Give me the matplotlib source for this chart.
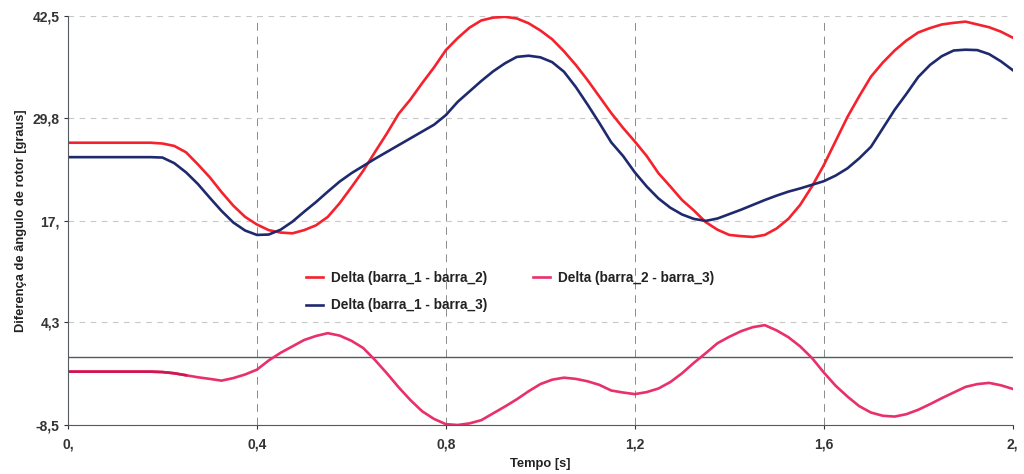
import numpy as np
import matplotlib
matplotlib.use("Agg")
import matplotlib.pyplot as plt

# time axis, 0.025 s steps
tempo = np.round(np.arange(0, 2.0001, 0.025), 4)

delta_12 = [26.7, 26.7, 26.7, 26.7, 26.7, 26.7, 26.7, 26.7, 26.6, 26.3,
            25.5, 24.0, 22.4, 20.55, 18.85, 17.45, 16.5, 15.8, 15.5, 15.4,
            15.8, 16.4, 17.45, 19.15, 21.15, 23.2, 25.55, 27.85, 30.3, 32.1,
            34.15, 36.1, 38.25, 39.75, 41.05, 41.95, 42.3, 42.4, 42.2, 41.6,
            40.7, 39.6, 38.1, 36.4, 34.5, 32.45, 30.4, 28.55, 26.85, 25.05,
            22.9, 21.25, 19.55, 18.25, 16.8, 15.85, 15.2, 15.05, 14.95, 15.2,
            16.0, 17.2, 18.95, 21.25, 23.9, 26.9, 29.9, 32.5, 34.95, 36.7,
            38.2, 39.45, 40.45, 41.0, 41.45, 41.65, 41.8, 41.45, 41.1, 40.55,
            39.8]
delta_13 = [24.9, 24.9, 24.9, 24.9, 24.9, 24.9, 24.9, 24.9, 24.85, 24.15,
            23.0, 21.55, 19.85, 18.2, 16.75, 15.75, 15.2, 15.25, 15.85, 16.85,
            18.1, 19.3, 20.6, 21.85, 22.9, 23.8, 24.7, 25.55, 26.4, 27.25,
            28.1, 28.95, 30.15, 31.8, 33.1, 34.4, 35.6, 36.6, 37.4, 37.55,
            37.35, 36.75, 35.55, 33.65, 31.45, 29.15, 26.75, 25.05, 23.0, 21.25,
            19.75, 18.6, 17.75, 17.2, 16.95, 17.25, 17.8, 18.35, 18.95, 19.55,
            20.1, 20.6, 21.0, 21.45, 21.9, 22.6, 23.5, 24.75, 26.2, 28.5,
            30.8, 32.8, 34.9, 36.4, 37.5, 38.2, 38.3, 38.25, 37.75, 36.85,
            35.75]
delta_23 = [-1.85, -1.85, -1.85, -1.85, -1.85, -1.85, -1.85, -1.85, -1.9, -2.05,
            -2.3, -2.55, -2.75, -2.97, -2.65, -2.2, -1.6, -0.45, 0.5, 1.3,
            2.1, 2.6, 2.95, 2.65, 2.0, 1.1, -0.4, -2.05, -3.8, -5.4,
            -6.8, -7.75, -8.4, -8.5, -8.3, -7.9, -7.05, -6.2, -5.3, -4.3,
            -3.4, -2.85, -2.6, -2.75, -3.05, -3.5, -4.2, -4.45, -4.65, -4.4,
            -3.95, -3.15, -2.05, -0.75, 0.45, 1.7, 2.5, 3.2, 3.7, 3.95,
            3.3, 2.45, 1.3, -0.15, -1.95, -3.6, -4.95, -6.15, -6.95, -7.35,
            -7.45, -7.15, -6.6, -5.9, -5.15, -4.45, -3.75, -3.4, -3.25, -3.55,
            -4.0]

yticks = [-8.5, 4.3, 17.0, 29.8, 42.5]
ytick_labels = ["-8,5", "4,3", "17,", "29,8", "42,5"]
xticks = [0, 0.4, 0.8, 1.2, 1.6, 2.0]
xtick_labels = ["0,", "0,4", "0,8", "1,2", "1,6", "2,"]

plt.rcParams['font.family'] = ['Liberation Sans', 'DejaVu Sans']

fig = plt.figure(figsize=(10.24, 4.74), dpi=100)
ax = fig.add_axes([0.0664, 0.1034, 0.9226, 0.8628])

ax.plot(tempo, delta_12, color='#f5222d', lw=1.9, label='Delta (barra_1 - barra_2)')
ax.plot(tempo, delta_13, color='#1f2a6e', lw=1.9, label='Delta (barra_1 - barra_3)')
ax.plot(tempo, delta_23, color='#e8306a', lw=1.9, label='Delta (barra_2 - barra_3)')
# first flat stretch of the pink line looks darker in the original
first = tempo <= 0.25
ax.plot(tempo[first], np.array(delta_23)[first], color='#d01650', lw=1.9)

ax.axhline(0, color='#555a60', lw=1.0, zorder=1)

ax.set_xlim(0, 2.0)
ax.set_ylim(-8.5, 42.5)
ax.set_xticks(xticks)
ax.set_xticklabels(xtick_labels)
ax.set_yticks(yticks)
ax.set_yticklabels(ytick_labels)
ax.tick_params(labelsize=10, colors='#333333', length=3, width=0.8)
ax.tick_params(axis='x', pad=6)
ax.tick_params(axis='y', pad=3)
for lab in ax.get_xticklabels() + ax.get_yticklabels():
    lab.set_fontweight('bold')

# grid
ax.yaxis.grid(True, color='#c8c8c8', linestyle=(0, (5, 5)), lw=0.8)
ax.xaxis.grid(True, color='#8a8a8a', linestyle=(0, (8, 6)), lw=0.7)
ax.set_axisbelow(True)

# spines
ax.spines['top'].set_visible(False)
ax.spines['right'].set_visible(False)
ax.spines['left'].set_color('#555a60')
ax.spines['bottom'].set_color('#555a60')

ax.set_ylabel('Diferença de ângulo de rotor [graus]', fontsize=9.3, fontweight='bold', color='#222222')
ax.set_xlabel('Tempo [s]', fontsize=9.3, fontweight='bold', color='#222222', labelpad=5)

leg = ax.legend(loc='center', bbox_to_anchor=(0.468, 0.326), ncol=2, frameon=False,
                fontsize=9.8, handlelength=1.25, handletextpad=0.6,
                columnspacing=3.3, labelspacing=1.0)
for txt in leg.get_texts():
    txt.set_fontweight('bold')
    txt.set_color('#222222')

fig.savefig('out.png', dpi=100)
